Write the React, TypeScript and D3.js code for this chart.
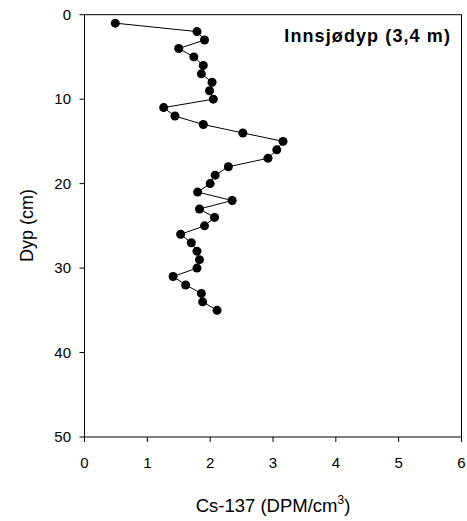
import React from "react";
import * as d3 from "d3";

const depths = [1,2,3,4,5,6,7,8,9,10,11,12,13,14,15,16,17,18,19,20,21,22,23,24,25,26,27,28,29,30,31,32,33,34,35];
const cs137 = [0.49,1.79,1.91,1.5,1.74,1.89,1.86,2.03,1.99,2.05,1.26,1.44,1.89,2.52,3.16,3.06,2.92,2.29,2.08,2.0,1.8,2.35,1.83,2.07,1.91,1.53,1.7,1.79,1.83,1.79,1.41,1.61,1.86,1.88,2.11];
const xTicks = [0,1,2,3,4,5,6];
const yTicks = [0,10,20,30,40,50];

export default function App() {
  const W = 467, H = 521;
  const left = 84.5, right = 461.5, top = 14.7, bottom = 437;
  const x = d3.scaleLinear().domain([0, 6]).range([left, right]);
  const y = d3.scaleLinear().domain([0, 50]).range([top, bottom]);
  const pts = depths.map((d, i) => [x(cs137[i]), y(d)] as [number, number]);
  const line = d3.line()(pts) || "";
  const font = "Liberation Sans, Arial, sans-serif";
  return (
    <svg width={W} height={H} style={{ position: "absolute", left: 0, top: 0 }}>
      <rect x={left} y={top} width={right - left} height={bottom - top} fill="none" stroke="#000" strokeWidth={1} />
      {yTicks.map(t => (
        <g key={"y" + t}>
          <line x1={left - 5} x2={left} y1={y(t)} y2={y(t)} stroke="#000" />
          <text x={71} y={y(t)} dy="0.35em" textAnchor="end" fontFamily={font} fontSize={15}>{t}</text>
        </g>
      ))}
      {xTicks.map(t => (
        <g key={"x" + t}>
          <line x1={x(t)} x2={x(t)} y1={bottom} y2={bottom + 5} stroke="#000" />
          <text x={x(t)} y={468} textAnchor="middle" fontFamily={font} fontSize={15}>{t}</text>
        </g>
      ))}
      <path d={line} fill="none" stroke="#000" strokeWidth={1} />
      {pts.map((p, i) => <circle key={i} cx={p[0]} cy={p[1]} r={4.5} fill="#000" />)}
      <text x={451} y={42} textAnchor="end" fontFamily={font} fontSize={18} fontWeight="bold" letterSpacing={1.1}>Innsjødyp (3,4 m)</text>
      <text transform={`translate(32.5,${225.5}) rotate(-90)`} textAnchor="middle" fontFamily={font} fontSize={18}>Dyp (cm)</text>
      <text x={273} y={512} textAnchor="middle" fontFamily={font} fontSize={18.5}>
        Cs-137 (DPM/cm<tspan dy={-8} fontSize={12}>3</tspan><tspan dy={8}>)</tspan>
      </text>
    </svg>
  );
}
